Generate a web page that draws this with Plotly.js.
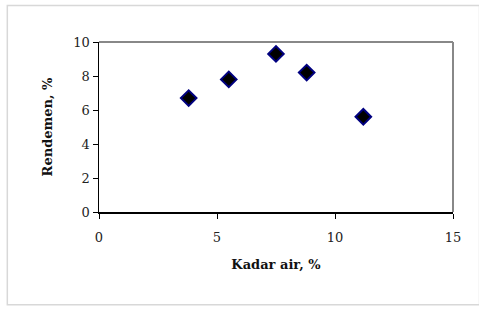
<!DOCTYPE html>
<html>
<head>
<meta charset="utf-8">
<script src="https://cdn.plot.ly/plotly-3.0.1.min.js"></script>
<style>html,body{margin:0;padding:0;background:#fff;}#chart{width:479px;height:309px;}</style>
</head>
<body>
<div id="chart"></div>
<script>
const kadarAir = [3.8, 5.5, 7.5, 8.8, 11.2];
const rendemen = [6.7, 7.8, 9.3, 8.2, 5.6];
const xTicks = [0, 5, 10, 15];
const yTicks = [0, 2, 4, 6, 8, 10];

const serif = "'DejaVu Serif', 'Liberation Serif', serif";
const trace = {
  x: kadarAir, y: rendemen, type: 'scatter', mode: 'markers',
  marker: {symbol: 'diamond', size: 12, color: '#000000', line: {color: '#000080', width: 2}},
  hoverinfo: 'none'
};
const tickFont = {family: serif, size: 13, color: '#222'};
const layout = {
  width: 479, height: 309,
  margin: {l: 99, r: 26, t: 42, b: 97},
  paper_bgcolor: '#fff', plot_bgcolor: '#fff',
  showlegend: false,
  xaxis: {
    range: [0, 15], tickvals: xTicks, ticktext: xTicks.map(String),
    showgrid: false, zeroline: false, showline: true, linecolor: '#000', linewidth: 1.5,
    ticks: 'outside', ticklen: 5, tickcolor: '#000', tickfont: tickFont, ticklabelstandoff: 8,
    title: {text: 'Kadar air, %', font: {family: serif, size: 13, color: '#111', weight: 'bold'}, standoff: 16}
  },
  yaxis: {
    range: [0, 10], tickvals: yTicks, ticktext: yTicks.map(String),
    showgrid: false, zeroline: false, showline: true, linecolor: '#000', linewidth: 1.5,
    ticks: 'outside', ticklen: 5, tickcolor: '#000', tickfont: tickFont,
    title: {text: 'Rendemen, %', font: {family: serif, size: 13, color: '#111', weight: 'bold'}, standoff: 18}
  },
  shapes: [
    {type: 'line', xref: 'paper', yref: 'paper', x0: 0, x1: 1, y0: 1, y1: 1, line: {color: '#888', width: 2}},
    {type: 'line', xref: 'paper', yref: 'paper', x0: 1, x1: 1, y0: 0, y1: 1, line: {color: '#888', width: 2}},
    {type: 'rect', xref: 'paper', yref: 'paper', x0: -0.259, x1: 1.075, y0: -0.545, y1: 1.215, line: {color: '#d8d8d8', width: 1.5}}
  ]
};
Plotly.newPlot('chart', [trace], layout, {staticPlot: true, displayModeBar: false});
</script>
</body>
</html>
